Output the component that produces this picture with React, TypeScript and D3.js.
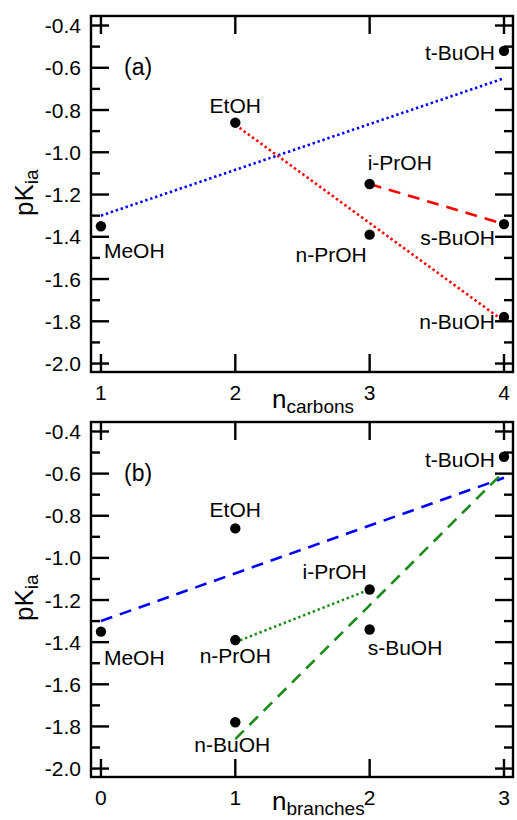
import React from 'react';
import * as d3 from 'd3';

// pKia values, shared by both panels
const names = ['MeOH', 'EtOH', 'n-PrOH', 'i-PrOH', 'n-BuOH', 's-BuOH', 't-BuOH'];
const pKia = [-1.35, -0.86, -1.39, -1.15, -1.78, -1.34, -0.52];
const nCarbons = [1, 2, 3, 3, 4, 4, 4];
const nBranches = [0, 1, 1, 2, 1, 2, 3];

// fit lines: [x0, y0, x1, y1]
const linesA = [
  { pts: [1, -1.3, 4, -0.65], color: '#0000ff', style: 'dot' },
  { pts: [2, -0.87, 4, -1.8], color: '#ff0000', style: 'dot' },
  { pts: [3, -1.15, 4, -1.34], color: '#ff0000', style: 'dash' },
];
const linesB = [
  { pts: [0, -1.3, 3, -0.62], color: '#0000ff', style: 'dash' },
  { pts: [1, -1.86, 3, -0.59], color: '#1a8c1a', style: 'dash' },
  { pts: [1, -1.4, 2, -1.15], color: '#1a8c1a', style: 'dot' },
];

const yMajor = [-0.4, -0.6, -0.8, -1.0, -1.2, -1.4, -1.6, -1.8, -2.0];
const yMinor = [-0.5, -0.7, -0.9, -1.1, -1.3, -1.5, -1.7, -1.9];
const xTicksA = [1, 2, 3, 4];
const xTicksB = [0, 1, 2, 3];

// label placement per point: [anchor, dx, dy]
const labelPosA = [
  ['start', 3, 32], ['middle', 0, -10], ['end', -3, 27], ['start', -2, -14],
  ['end', -9, 12], ['end', -9, 21], ['end', -9, 9],
];
const labelPosB = [
  ['start', 3, 33], ['middle', 0, -11], ['middle', 0, 23], ['end', -3, -10],
  ['middle', -3, 30], ['start', -2, 25], ['end', -9, 10],
];

const font = 'Liberation Sans, Arial, Helvetica, sans-serif';
const left = 91;
const right = 513;

const Panel = ({ top, bottom, xs, xDomain, xTicks, lines, labelPos, tag, xSub, xLabelGap }) => {
  const x = d3.scaleLinear().domain(xDomain).range([left, right]);
  const y = d3.scaleLinear().domain([-2.04, -0.355]).range([bottom, top]);
  const line = d3.line().x(d => x(d[0])).y(d => y(d[1]));
  const major = 18;
  const minor = 9;
  const sw = 2.4;

  return (
    <g>
      {lines.map((l, i) => (
        <path
          key={'l' + i}
          d={line([[l.pts[0], l.pts[1]], [l.pts[2], l.pts[3]]])}
          fill="none"
          stroke={l.color}
          strokeWidth={2.6}
          strokeDasharray={l.style === 'dot' ? '2.4 2.8' : '12 8'}
        />
      ))}

      {/* ticks, inward on all four sides */}
      <g stroke="#000" strokeWidth={sw}>
        {yMajor.map(v => (
          <g key={'ym' + v}>
            <line x1={left} x2={left + major} y1={y(v)} y2={y(v)} />
            <line x1={right} x2={right - major} y1={y(v)} y2={y(v)} />
          </g>
        ))}
        {yMinor.map(v => (
          <g key={'yn' + v}>
            <line x1={left} x2={left + minor} y1={y(v)} y2={y(v)} />
            <line x1={right} x2={right - minor} y1={y(v)} y2={y(v)} />
          </g>
        ))}
        {xTicks.map(v => (
          <g key={'xm' + v}>
            <line x1={x(v)} x2={x(v)} y1={bottom} y2={bottom - major} />
            <line x1={x(v)} x2={x(v)} y1={top} y2={top + major} />
          </g>
        ))}
      </g>
      <rect x={left} y={top} width={right - left} height={bottom - top}
        fill="none" stroke="#000" strokeWidth={sw} />

      <g fontFamily={font} fontSize={21} fill="#000">
        {yMajor.map(v => (
          <text key={'yl' + v} x={left - 10} y={y(v)} dy="0.36em" textAnchor="end">
            {v.toFixed(1)}
          </text>
        ))}
        {xTicks.map(v => (
          <text key={'xl' + v} x={x(v)} y={bottom + 28} textAnchor="middle">{v}</text>
        ))}
        <text x={124} y={top + 59} fontSize={23}>{tag}</text>
      </g>

      {pKia.map((v, i) => (
        <circle key={'p' + i} cx={x(xs[i])} cy={y(v)} r={5.2} fill="#000" />
      ))}
      <g fontFamily={font} fontSize={21} fill="#000">
        {pKia.map((v, i) => (
          <text key={'t' + i} x={x(xs[i]) + labelPos[i][1]} y={y(v) + labelPos[i][2]}
            textAnchor={labelPos[i][0]}>
            {names[i]}
          </text>
        ))}
      </g>

      <text fontFamily={font} fontSize={26} x={272} y={bottom + xLabelGap}>
        n<tspan fontSize={19} dy={5}>{xSub}</tspan>
      </text>
      <text fontFamily={font} fontSize={26}
        transform={`translate(33,${bottom - 156}) rotate(-90)`}>
        pK<tspan fontSize={19} dy={5}>ia</tspan>
      </text>
    </g>
  );
};

export default function App() {
  return (
    <div style={{ position: 'absolute', left: 0, top: 0 }}>
      <svg width={517} height={820} style={{ display: 'block', background: '#fff' }}>
        <Panel top={16} bottom={372} xs={nCarbons} xDomain={[0.926, 4.067]} xLabelGap={36}
          xTicks={xTicksA} lines={linesA} labelPos={labelPosA} tag="(a)" xSub="carbons" />
        <Panel top={422} bottom={777} xs={nBranches} xDomain={[-0.074, 3.067]} xLabelGap={33}
          xTicks={xTicksB} lines={linesB} labelPos={labelPosB} tag="(b)" xSub="branches" />
      </svg>
    </div>
  );
}
